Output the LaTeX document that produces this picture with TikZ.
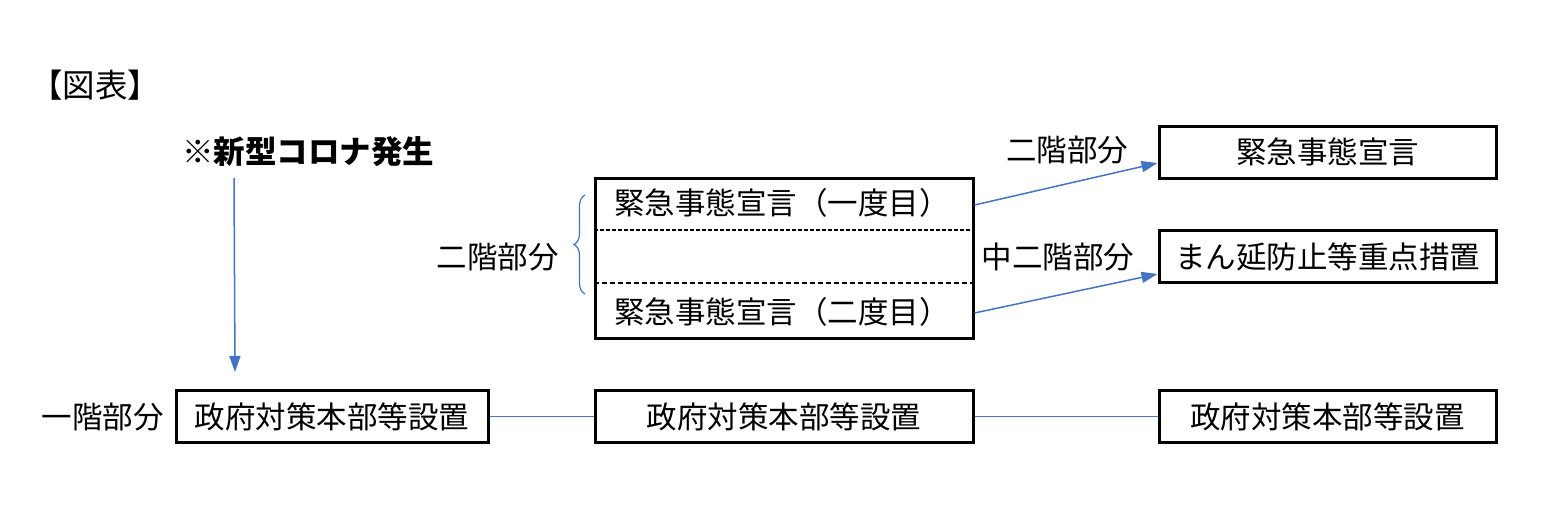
\documentclass[tikz,border=0pt]{standalone}
\usepackage{fontspec}
\setmainfont{Noto Sans CJK JP}
\usetikzlibrary{decorations.pathreplacing,arrows.meta}
\definecolor{lineblue}{HTML}{4472C4}
\tikzset{
  boxnode/.style={draw=black,line width=3pt,minimum height=52pt,inner sep=0pt,font=\fontsize{30.5}{33}\selectfont},
  lbl/.style={inner sep=0pt,font=\fontsize{30.5}{33}\selectfont},
  conn/.style={draw=lineblue,line width=1.5pt},
  arr/.style={conn,-{Triangle[length=16pt,width=11pt]}},
}
\begin{document}
\begin{tikzpicture}[x=1pt,y=-1pt]
\useasboundingbox (0,0) rectangle (1544,512);
% title
\node[lbl,anchor=west,font=\fontsize{32.5}{35}\selectfont] (title) at (30,85) {【図表】};
\node[lbl,anchor=west,font=\fontsize{31.5}{35}\selectfont\bfseries] (corona) at (182,152) {※新型コロナ発生};
% bottom row
\node[boxnode,minimum width=312pt] (b1) at (332,416.5) {政府対策本部等設置};
\node[boxnode,minimum width=378pt] (b2) at (784,416.5) {政府対策本部等設置};
\node[boxnode,minimum width=337pt] (b3) at (1327.5,416.5) {政府対策本部等設置};
\node[lbl,anchor=east] (l1) at (164,417) {一階部分};
\draw[conn,line width=1pt] (b1.east) -- (b2.west);
\draw[conn,line width=1pt] (b2.east) -- (b3.west);
% arrow from corona
\coordinate (cs) at (234,178);
\draw[arr] (cs) -- (235,372);
% big middle box
\node[draw=black,line width=3pt,minimum width=378pt,minimum height=160pt,inner sep=0pt] (big) at (784,258) {};
\draw[dashed,line width=2pt,dash pattern=on 4pt off 2pt] (big.west |- 0,230) coordinate (d1a) -- (big.east |- 0,230) coordinate (d1b);
\draw[dashed,line width=2.5pt,dash pattern=on 5pt off 3pt] (big.west |- 0,283) coordinate (d2a) -- (big.east |- 0,283) coordinate (d2b);
\node[lbl] (s1) at (782,203) {緊急事態宣言（一度目）};
\node[lbl] (s2) at (782,312) {緊急事態宣言（二度目）};
% brace
\draw[lineblue,line width=1.2pt,decorate,decoration={brace,amplitude=11pt}] (585,294) coordinate (bra) -- (585,195) coordinate (brb);
\node[lbl,anchor=east] (l2) at (559,257) {二階部分};
% right boxes
\node[boxnode,minimum width=337pt] (r1) at (1327.5,152) {緊急事態宣言};
\node[boxnode,minimum width=337pt] (r2) at (1327.5,256.5) {まん延防止等重点措置};
\draw[arr] (big.east |- 0,205) -- (r1.west |- 0,163);
\draw[arr] (big.east |- 0,313) -- (r2.west |- 0,274);
\node[lbl] (l3) at (1067,150) {二階部分};
\node[lbl] (l4) at (1058,257) {中二階部分};
\end{tikzpicture}
\end{document}
